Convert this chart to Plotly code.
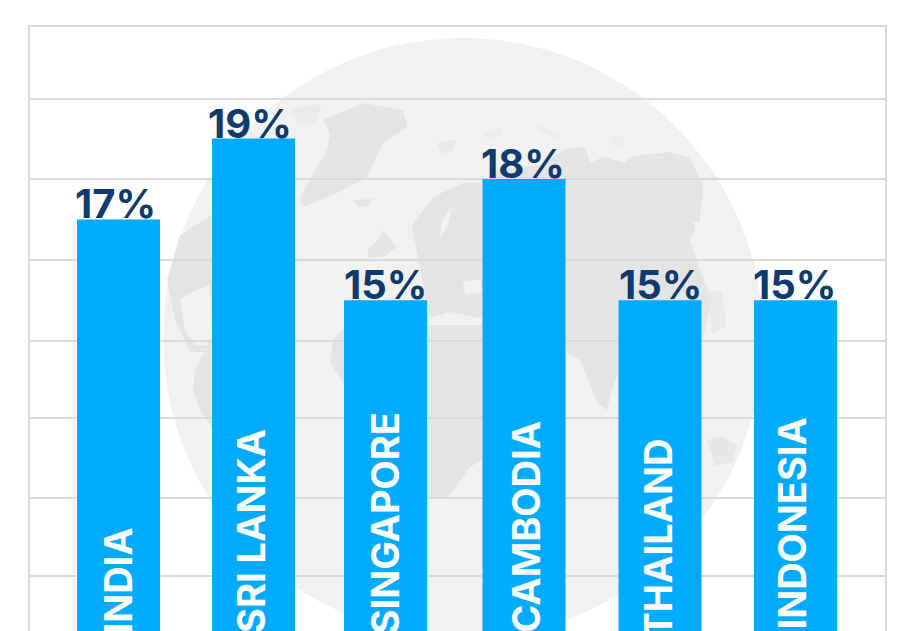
import plotly.graph_objects as go

# ---- data ----
categories = ["INDIA", "SRI LANKA", "SINGAPORE", "CAMBODIA", "THAILAND", "INDONESIA"]
values = [17, 19, 15, 18, 15, 15]
value_labels = ["17%", "19%", "15%", "18%", "15%", "15%"]
grid_values = [19.98, 18, 16, 14, 12.08, 10.1, 8.17]

# ---- style ----
W, H = 902, 631
L, R, T, B = 30, 885, 27, 631
BAR = "#00ABFF"
NAVY = "#0F3A6E"
GRID = "#DADADA"
LAND = "#E4E4E4"
SEA = "#F1F1F1"
bar_nudge_px = [0, -0.4, -3.8, -0.7, -0.1, 0]
value_shift_px = [-3, -3.9, -4.3, -1.7, 0.4, -1]
name_shift_px = [-1, -3, -4, 1, -3, -4]
name_lift_px = [-5, -4, -5, -4, -9, -1]
UNIT = 135.4
x_range = [(L - 118.5) / UNIT, (R - 118.5) / UNIT]
PX_PER_PCT = 40.4
y_range = [18 - (B - 179) / PX_PER_PCT, 18 + (179 - T) / PX_PER_PCT]


def px(x, y):
    return (x - L) / (R - L), (B - y) / (B - T)


def path(points):
    coords = [px(*p) for p in points]
    return "M" + " L".join(f"{a:.4f},{b:.4f}" for a, b in coords) + " Z"


def land(points, color=LAND):
    return dict(type="path", xref="paper", yref="paper", layer="below", path=path(points),
                fillcolor=color, line=dict(width=0))


gx0, gy0 = px(163, 638)
gx1, gy1 = px(763, 38)
shapes = [dict(type="circle", xref="paper", yref="paper", layer="below", x0=gx0, y0=gy0, x1=gx1, y1=gy1,
               fillcolor=SEA, line=dict(width=0))]

outlines = [
    # Greenland
    [(300, 197), (327, 150), (330, 133), (323, 120), (363, 103), (403, 110), (407, 127), (383, 143), (367, 177), (337, 193), (303, 207)],
    # Iceland, UK
    [(353, 200), (373, 199), (368, 206), (358, 207)],
    [(367, 250), (378, 240), (383, 230), (397, 247), (385, 256), (370, 258)],
    # Europe
    [(427, 305), (412, 225), (433, 197), (463, 183), (482, 183), (482, 318), (450, 312), (430, 318)],
    # Asia
    [(482, 183), (495, 170), (540, 165), (567, 148), (585, 147), (590, 163), (603, 157), (625, 163), (630, 157), (667, 152),
     (690, 157), (703, 187), (700, 220), (690, 240), (700, 270), (712, 300), (705, 330), (702, 340), (660, 360), (618, 373),
     (615, 380), (610, 397), (607, 410), (597, 403), (580, 360), (567, 353), (540, 340), (520, 360), (482, 330)],
    # Africa
    [(344, 328), (333, 340), (330, 362), (344, 385), (400, 420), (427, 497), (447, 499), (470, 467), (482, 460), (482, 325), (430, 325)],
    # North America
    [(212, 215), (180, 235), (167, 280), (175, 320), (190, 352), (212, 352)],
    # South America
    [(212, 352), (203, 353), (195, 370), (193, 390), (200, 410), (212, 428)],
]
shapes += [land(o) for o in outlines]
shapes += [
    land([(180, 300), (192, 292), (210, 285), (212, 340), (205, 345), (195, 345), (185, 330)], SEA),  # Gulf of Mexico
    land([(463, 281), (480, 280), (482, 293), (465, 294)], SEA),  # Black Sea
    land([(442, 220), (452, 206), (449, 222), (440, 240)], SEA),  # Baltic
    land([(693, 222), (710, 222), (717, 247), (700, 245)], SEA),  # Sea of Japan
    land([(707, 440), (722, 436), (737, 445), (732, 462), (715, 466)], "#E7E7E7"),  # Australia
    land([(708, 290), (722, 292), (726, 325), (712, 335)], "#E9E9E9"),  # Indonesia
    land([(290, 110), (322, 104), (316, 125), (298, 125)], "#EBEBEB"),  # Arctic Canada
    land([(437, 143), (457, 139), (452, 152), (440, 153)], "#E8E8E8"),  # Svalbard
    land([(483, 133), (502, 127), (500, 137), (487, 139)], "#ECECEC"),
    land([(535, 123), (560, 135), (558, 140), (538, 130)], "#ECECEC"),
    land([(606, 137), (622, 135), (626, 147), (612, 145)], "#ECECEC"),
]

fig = go.Figure()
fig.add_bar(
    x=categories,
    y=values,
    width=83 / UNIT,
    offset=[(n / UNIT) - 83 / UNIT / 2 for n in bar_nudge_px],
    marker=dict(color=BAR, line=dict(width=0)),
    hoverinfo="skip",
)

annotations = []
for cat, val, lab, vs, ns, lift in zip(categories, values, value_labels, value_shift_px, name_shift_px, name_lift_px):
    annotations.append(dict(x=cat, y=val, text=lab, showarrow=False, xanchor="center", yanchor="bottom",
                            xshift=vs, yshift=-11, font=dict(family="Inter", size=40, color=NAVY, weight="bold")))
    annotations.append(dict(x=cat, y=y_range[0], text=cat, showarrow=False, xanchor="center", yanchor="bottom",
                            textangle=-90, xshift=ns, yshift=lift,
                            font=dict(family="Inter", size=38, color="white", weight="bold")))

fig.update_layout(
    width=W,
    height=H,
    margin=dict(l=L, r=W - R, t=T, b=H - B, pad=0, autoexpand=False),
    paper_bgcolor="white",
    plot_bgcolor="rgba(0,0,0,0)",
    showlegend=False,
    shapes=shapes,
    annotations=annotations,
    xaxis=dict(type="category", range=x_range, showticklabels=False, showgrid=False, zeroline=False,
               showline=True, linecolor=GRID, linewidth=2, mirror=True, ticks=""),
    yaxis=dict(range=y_range, tickmode="array", tickvals=grid_values, showticklabels=False, gridcolor=GRID, gridwidth=2,
               zeroline=False, showline=True, linecolor=GRID, linewidth=2, mirror=True, ticks=""),
)

fig.write_html("out.html", config={"displayModeBar": False}, post_script="document.body.style.margin='0';")
